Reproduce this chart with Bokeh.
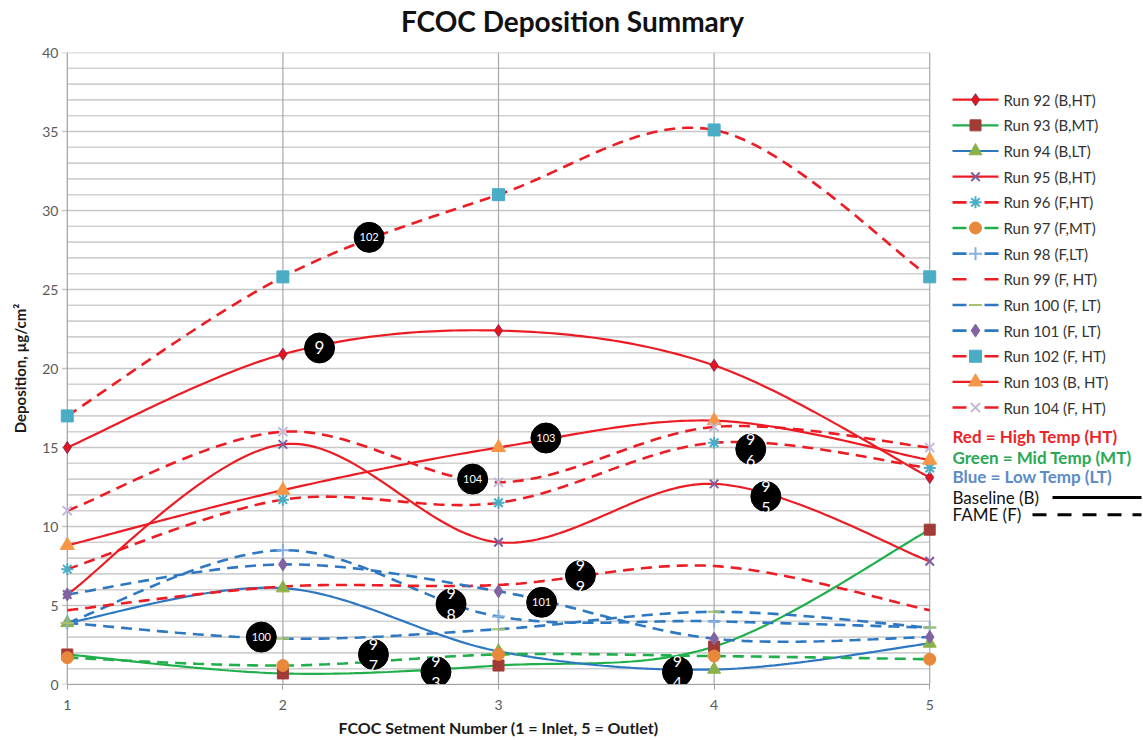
import numpy as np
from bokeh.plotting import figure
from bokeh.layouts import row, column
from bokeh.models import FixedTicker, Range1d
from bokeh.core.properties import value
from bokeh.embed import file_html
from bokeh.resources import INLINE

# ---------------- data ----------------
segments = [1, 2, 3, 4, 5]
run92 = [15.0, 20.9, 22.4, 20.2, 13.1]
run93 = [1.9, 0.7, 1.2, 2.4, 9.8]
run94 = [3.9, 6.1, 2.1, 0.95, 2.6]
run95 = [5.7, 15.2, 9.0, 12.7, 7.8]
run96 = [7.3, 11.7, 11.5, 15.3, 13.7]
run97 = [1.7, 1.2, 1.9, 1.8, 1.6]
run98 = [3.9, 8.5, 4.3, 4.0, 3.6]
run99 = [4.7, 6.2, 6.3, 7.5, 4.7]
run100 = [3.9, 2.9, 3.5, 4.6, 3.6]
run101 = [5.7, 7.6, 5.9, 2.9, 3.0]
run102 = [17.0, 25.8, 31.0, 35.1, 25.8]
run103 = [8.8, 12.3, 15.0, 16.7, 14.2]
run104 = [11.0, 16.0, 12.8, 16.3, 15.0]

run_names = ["Run 92 (B,HT)", "Run 93 (B,MT)", "Run 94 (B,LT)", "Run 95 (B,HT)",
             "Run 96 (F,HT)", "Run 97 (F,MT)", "Run 98 (F,LT)", "Run 99 (F, HT)",
             "Run 100 (F, LT)", "Run 101 (F, LT)", "Run 102 (F, HT)", "Run 103 (B, HT)",
             "Run 104 (F, HT)"]

bubble_x = [2.40, 2.17, 3.22, 2.88, 4.17, 4.24, 3.38, 3.20, 2.78, 1.90, 2.42, 2.71, 3.83]
bubble_y = [28.3, 21.3, 15.6, 13.0, 14.9, 11.9, 6.9, 5.2, 5.1, 3.0, 1.9, 0.8, 0.8]
bubble_text = ["102", "9", "103", "104", "9\n6", "9\n5", "9\n9", "101", "9\n8", "100", "9\n7", "9\n3", "9\n4"]

y_ticks = [0, 5, 10, 15, 20, 25, 30, 35, 40]
y_minor = list(range(0, 41))

key_texts = ["Red = High Temp (HT)", "Green = Mid Temp (MT)", "Blue = Low Temp (LT)",
             "Baseline (B)", "FAME (F)"]

# ---------------- styles ----------------
RED = "#EC1C24"
GREEN = "#1FAF4B"
BLUE = "#2E78C2"
DASH = "11 7"
FONT = "Lato"

series = [
    (run92, RED, "solid", "diamond", "#E8141B", "#8B2252", 12),
    (run93, GREEN, "solid", "square", "#A23B36", "#A23B36", 11),
    (run94, BLUE, "solid", "triangle", "#8CB14A", "#8CB14A", 13),
    (run95, RED, "solid", "x", "#7D5FA0", "#7D5FA0", 12),
    (run96, RED, DASH, "asterisk", "#4BACC6", "#4BACC6", 12),
    (run97, GREEN, DASH, "circle", "#E8883A", "#E8883A", 12),
    (run98, BLUE, DASH, "cross", "#86AEE0", "#86AEE0", 13),
    (run99, RED, DASH, None, None, None, 0),
    (run100, BLUE, DASH, "dash", "#A5C26B", "#A5C26B", 13),
    (run101, BLUE, DASH, "diamond", "#8064A2", "#8064A2", 13),
    (run102, RED, DASH, "square", "#4BACC6", "#4BACC6", 12),
    (run103, RED, "solid", "triangle", "#F79646", "#F79646", 14),
    (run104, RED, DASH, "x", "#C4B8DA", "#C4B8DA", 13),
]


def smooth(xs, ys, n=40):
    """Excel-style smoothed line (Catmull-Rom Bezier) through the points."""
    P = np.column_stack([xs, ys]).astype(float)
    out = []
    t = np.linspace(0, 1, n)[:, None]
    for i in range(len(P) - 1):
        p0 = P[i - 1] if i > 0 else P[i]
        p1, p2 = P[i], P[i + 1]
        p3 = P[i + 2] if i + 2 < len(P) else P[i + 1]
        c1 = p1 + (p2 - p0) / 6.0
        c2 = p2 - (p3 - p1) / 6.0
        seg = ((1 - t) ** 3) * p1 + 3 * ((1 - t) ** 2) * t * c1 + 3 * (1 - t) * t ** 2 * c2 + t ** 3 * p2
        out.append(seg if i == 0 else seg[1:])
    out = np.vstack(out)
    return out[:, 0], out[:, 1]


def marker_lw(mk):
    return 2.0 if mk in ("x", "cross", "asterisk", "dash") else 1.0


# ---------------- title strip ----------------
title_fig = figure(width=1143, height=44, output_backend="svg", toolbar_location=None,
                   x_range=Range1d(0, 1143), y_range=Range1d(44, 0),
                   x_axis_location=None, y_axis_location=None,
                   min_border=0, outline_line_color=None)
title_fig.grid.visible = False
title_fig.text([572], [20], text=["FCOC Deposition Summary"], text_font=value(FONT),
               text_font_style="bold", text_font_size="28px", text_align="center",
               text_baseline="middle", text_color="#111111")

# ---------------- main chart ----------------
DX = 0.05
p = figure(width=944, height=696, output_backend="svg", toolbar_location=None,
           x_range=Range1d(1 - DX, 5 + DX), y_range=Range1d(0, 40),
           min_border_left=56, min_border_right=4, min_border_top=8, min_border_bottom=56,
           outline_line_color=None)
p.xgrid.grid_line_color = None
p.ygrid.grid_line_color = None

# grid lines (minor every 1, major every 5 with a small outward tick), bounded to 1..5
minor_y = [v for v in y_minor if v not in y_ticks]
p.segment(x0=1, x1=5, y0=minor_y, y1=minor_y, line_color="#D0D0D0", line_width=1.6)
p.segment(x0=1 - 0.025, x1=5, y0=y_ticks, y1=y_ticks, line_color="#C6C6C6", line_width=1.6)
p.segment(x0=segments[1:], x1=segments[1:], y0=0, y1=40, line_color="#A8A8A8", line_width=1.2)
p.segment(x0=[1], x1=[1], y0=0, y1=40, line_color="#A0A0A0", line_width=1.2)

p.xaxis.ticker = FixedTicker(ticks=segments)
p.xaxis.bounds = (1, 5)
p.yaxis.ticker = FixedTicker(ticks=y_ticks)
for ax in (p.xaxis[0], p.yaxis[0]):
    ax.minor_tick_line_color = None
    ax.major_label_text_font = FONT
    ax.major_label_text_font_size = "14px"
    ax.major_label_text_color = "#595959"
    ax.axis_label_text_font = FONT
    ax.axis_label_text_font_style = "bold"
    ax.axis_label_text_color = "#1a1a1a"
p.xaxis.axis_label_text_font_size = "16px"
p.yaxis.axis_label_text_font_size = "15px"
p.xaxis.axis_line_color = "#A0A0A0"
p.xaxis.major_tick_line_color = "#A0A0A0"
p.xaxis.major_tick_out = 5
p.xaxis.major_tick_in = 0
p.xaxis.major_label_standoff = 10
p.xaxis.axis_label_standoff = 5
p.yaxis.axis_line_color = None
p.yaxis.major_tick_line_color = None
p.yaxis.major_tick_out = 0
p.yaxis.major_tick_in = 0
p.yaxis.major_label_standoff = -2
p.yaxis.axis_label_standoff = 10
p.xaxis.axis_label = "FCOC Setment Number (1 = Inlet, 5 = Outlet)"
p.yaxis.axis_label = "Deposition, µg/cm²"

for vals, col, dash, mk, fill, edge, sz in series:
    sx, sy = smooth(segments, vals)
    lw = 2.2 if dash == "solid" else 2.6
    p.line(sx, sy, line_color=col, line_width=lw, line_dash=dash)
for vals, col, dash, mk, fill, edge, sz in series:
    if mk is not None:
        p.scatter(segments, vals, marker=mk, size=sz, fill_color=fill,
                  line_color=edge, line_width=marker_lw(mk))

# black numbered bubbles
p.scatter(bubble_x, bubble_y, marker="circle", size=30, fill_color="black", line_color="black")
three_x, three_y, three_t = [], [], []
one_x, one_y, one_t = [], [], []
two_x, two_y, two_top, two_bot = [], [], [], []
for bx, by, bt in zip(bubble_x, bubble_y, bubble_text):
    if "\n" in bt:
        a, b = bt.split("\n")
        two_x.append(bx); two_y.append(by); two_top.append(a); two_bot.append(b)
    elif len(bt) == 1:
        one_x.append(bx); one_y.append(by); one_t.append(bt)
    else:
        three_x.append(bx); three_y.append(by); three_t.append(bt)
p.text(three_x, three_y, text=three_t, text_color="white", text_font=value(FONT),
       text_font_size="11px", text_align="center", text_baseline="middle")
p.text(one_x, one_y, text=one_t, text_color="white", text_font=value(FONT),
       text_font_size="17px", text_align="center", text_baseline="middle")
p.text(two_x, two_y, text=two_top, text_color="white", text_font=value(FONT), text_font_size="16px",
       text_align="center", text_baseline="middle", y_offset=-10)
p.text(two_x, two_y, text=two_bot, text_color="white", text_font=value(FONT), text_font_size="16px",
       text_align="center", text_baseline="middle", y_offset=11)

# ---------------- legend / key panel ----------------
side = figure(width=199, height=696, output_backend="svg", toolbar_location=None,
              x_range=Range1d(944, 1143), y_range=Range1d(740, 44),
              x_axis_location=None, y_axis_location=None,
              min_border=0, outline_line_color=None)
side.grid.visible = False

for i, ((vals, col, dash, mk, fill, edge, sz), name) in enumerate(zip(series, run_names)):
    yy = 96 + 28.25 * i
    lw = 2.2 if dash == "solid" else 2.6
    side.segment(x0=[952], x1=[998], y0=[yy], y1=[yy], line_color=col, line_width=lw,
                 line_dash="14 18" if dash != "solid" else "solid")
    if mk is not None:
        side.scatter([975], [yy], marker=mk, size=sz, fill_color=fill, line_color=edge,
                     line_width=marker_lw(mk))
    side.text([1003], [yy], text=[name], text_font=value(FONT), text_font_size="15px",
              text_color="#333333", text_baseline="middle")

key_colors = ["#E8262A", "#2AA955", "#5B8CC8", "#111111", "#111111"]
key_styles = ["bold", "bold", "bold", "normal", "normal"]
key_y = [467, 490, 511, 534, 553]
for txt, col, st, yy in zip(key_texts, key_colors, key_styles, key_y):
    side.text([952], [yy], text=[txt], text_color=col, text_font=value(FONT),
              text_font_style=st, text_font_size="17px", text_baseline="middle")
side.segment(x0=[1052], x1=[1141], y0=[534], y1=[534], line_color="black", line_width=3)
side.segment(x0=[1032], x1=[1141], y0=[553], y1=[553], line_color="black", line_width=3,
             line_dash="14 11")

layout = column(title_fig, row(p, side))
open("out.html", "w").write(file_html(layout, INLINE))
